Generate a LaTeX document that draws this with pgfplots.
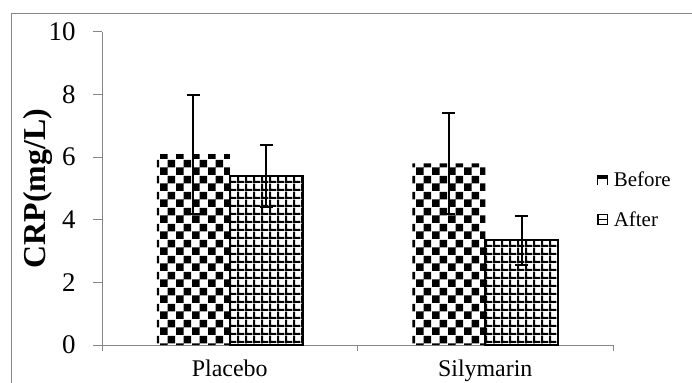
\documentclass[border=0pt]{standalone}
\usepackage{pgfplots}
\pgfplotsset{compat=1.18}
\usepackage{fontspec}
\setmainfont{Liberation Serif}
\usetikzlibrary{patterns}
\pgfdeclarepatternformonly{bigchecker}{\pgfpointorigin}{\pgfqpoint{16bp}{16bp}}{\pgfqpoint{16bp}{16bp}}{%
  \pgfpathrectangle{\pgfpointorigin}{\pgfqpoint{8bp}{8bp}}%
  \pgfpathrectangle{\pgfqpoint{8bp}{8bp}}{\pgfqpoint{8bp}{8bp}}%
  \pgfusepath{fill}}
\pgfdeclarepatternformonly{biggrid}{\pgfpointorigin}{\pgfqpoint{8.2bp}{8.2bp}}{\pgfqpoint{8.2bp}{8.2bp}}{%
  \pgfpathrectangle{\pgfpointorigin}{\pgfqpoint{2.2bp}{8.2bp}}%
  \pgfpathrectangle{\pgfpointorigin}{\pgfqpoint{8.2bp}{2.2bp}}%
  \pgfusepath{fill}}
\definecolor{axgray}{RGB}{134,134,134}
\begin{document}
\begin{tikzpicture}
\useasboundingbox (0,0) rectangle (692bp,383bp);
\draw[axgray, line width=1bp] (11bp,-5bp) -- (11bp,369bp) -- (700bp,369bp);
\begin{axis}[
  at={(102bp,38bp)}, anchor=south west,
  scale only axis, width=511bp, height=313bp,
  xmin=-0.5, xmax=1.5, ymin=0, ymax=10,
  axis x line*=bottom, axis y line*=left,
  axis line style={axgray, line width=1bp},
  ytick={0,2,...,10},
  tick align=outside,
  major tick length=9bp, minor tick length=6bp,
  y tick style={axgray, line width=1bp},
  xtick={0,1}, xticklabels={Placebo,Silymarin},
  major x tick style={draw=none},
  minor xtick={-0.5,0.5,1.5},
  minor x tick style={axgray, line width=1bp},
  /pgf/number format/assume math mode=true,
  yticklabel style={font=\fontsize{27}{30}\selectfont, xshift=-14bp},
  xticklabel style={font=\fontsize{24}{27}\selectfont, yshift=-2bp},
  ylabel={CRP(mg/L)},
  ylabel style={font=\fontsize{32}{36}\selectfont\bfseries, at={(axis description cs:-0.1262,0.5)}, anchor=center},
  ybar, bar width=73bp,
  clip=false,
  legend style={draw=none, fill=none, at={(rel axis cs:0.969,0.558)}, anchor=north west,
    font=\fontsize{21}{24}\selectfont, row sep=20bp, inner sep=0pt,
    nodes={inner sep=1.5bp}},
  legend cell align=left,
]
\addplot+[bar shift=-36.5bp, draw=none, pattern=bigchecker, pattern color=black,
  legend image code/.code={%
    \path[fill=black, draw=none] (0bp,1.5bp) rectangle (11bp,5bp);
    \path[draw=black, fill=none, line width=0.9bp] (0.45bp,-5bp) -- (0.45bp,5bp) (10.55bp,-5bp) -- (10.55bp,5bp);
    \path[draw=none, fill=none] (0bp,0bp) -- (15bp,0bp);},
  error bars/.cd, y dir=both, y explicit,
  error bar style={black, line width=2bp},
  error mark options={black, rotate=90, mark size=6.3bp, line width=2bp},
  ]
  coordinates {(0,6.1) +- (0,1.9) (1,5.8) +- (0,1.6)};
\addlegendentry{Before}
\addplot+[bar shift=36.5bp, draw=black, line width=1.6bp, pattern=biggrid, pattern color=black,
  legend image code/.code={%
    \path[draw=black, fill=none, line width=1.3bp] (0.65bp,-4.8bp) rectangle (10.35bp,4.8bp);
    \path[draw=black, fill=none, line width=1.3bp] (0.65bp,0bp) -- (10.35bp,0bp);
    \path[draw=none, fill=none] (0bp,0bp) -- (15bp,0bp);},
  error bars/.cd, y dir=both, y explicit,
  error bar style={black, line width=2bp},
  error mark options={black, rotate=90, mark size=6.3bp, line width=2bp},
  ]
  coordinates {(0,5.4) +- (0,1.0) (1,3.35) +- (0,0.78)};
\addlegendentry{After}
\end{axis}
\end{tikzpicture}
\end{document}
